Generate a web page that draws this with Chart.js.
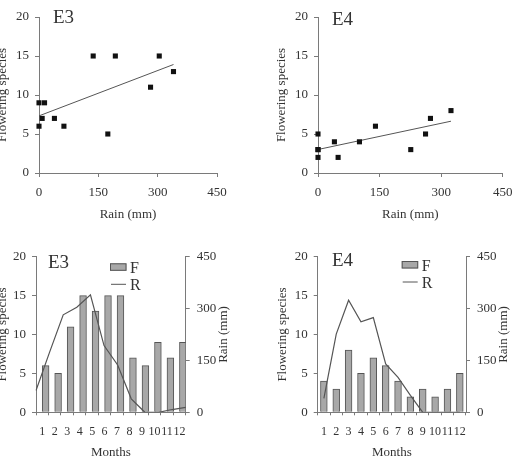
<!DOCTYPE html>
<html>
<head>
<meta charset="utf-8">
<script src="https://cdn.jsdelivr.net/npm/chart.js@4.4.1/dist/chart.umd.min.js"></script>
<style>
  html, body { margin: 0; padding: 0; background: #fff; overflow: hidden; width: 513px; height: 460px; }
  canvas { position: absolute; }
</style>
</head>
<body>
<canvas id="scatterE3" width="261" height="222" style="left:-5px;top:0px"></canvas>
<canvas id="scatterE4" width="250" height="222" style="left:274px;top:0px"></canvas>
<canvas id="barsE3" width="245" height="225" style="left:-5px;top:235px"></canvas>
<canvas id="barsE4" width="238" height="225" style="left:275px;top:235px"></canvas>
<script>
const months = ['1', '2', '3', '4', '5', '6', '7', '8', '9', '10', '11', '12'];
const flowersE3 = [6, 5, 11, 15, 13, 15, 15, 7, 6, 9, 7, 9];
const rainE3 = [63, 174, 282, 304, 340, 193, 137, 39, 0, 0, 8, 14];
const flowersE4 = [4, 3, 8, 5, 7, 6, 4, 2, 3, 2, 3, 5];
const rainE4 = [40, 226, 324, 262, 274, 140, 101, 49, 0, 0, 0, 0];
const speciesTicks = [0, 5, 10, 15, 20];
const rainTicks = [0, 150, 300, 450];

const FONT = '"Liberation Serif", "Times New Roman", serif';
const TEXT = '#333';
const AXIS = '#7a7a7a';

// least squares line, drawn from 0 to the largest rain value (like the excel trendline)
function trend(xs, ys) {
  const n = xs.length;
  const mx = xs.reduce((a, b) => a + b, 0) / n;
  const my = ys.reduce((a, b) => a + b, 0) / n;
  let sxy = 0, sxx = 0;
  xs.forEach((x, i) => { sxy += (x - mx) * (ys[i] - my); sxx += (x - mx) * (x - mx); });
  const m = sxy / sxx, b = my - m * mx;
  const xmax = Math.max(...xs);
  return [{ x: 0, y: b }, { x: xmax, y: b + m * xmax }];
}

// panel name, little legend and the right hand axis title
const panelText = {
  id: 'panelText',
  afterDraw(chart, args, o) {
    const { ctx, chartArea: a } = chart;
    ctx.save();
    ctx.fillStyle = TEXT;
    ctx.textBaseline = 'alphabetic';
    ctx.font = '19px ' + FONT;
    ctx.fillText(o.label, a.left + o.labelX, a.top + o.labelY);
    if (o.legend) {
      const lx = a.left + o.legend.x, ly = a.top + o.legend.y;
      ctx.fillStyle = '#a8a8a8';
      ctx.strokeStyle = '#555';
      ctx.lineWidth = 1;
      ctx.fillRect(lx, ly, 16.5, 7.5);
      ctx.strokeRect(lx + 0.5, ly + 0.5, 15.5, 6.5);
      ctx.beginPath();
      ctx.moveTo(lx + 1, ly + 21);
      ctx.lineTo(lx + 16, ly + 21);
      ctx.stroke();
      ctx.fillStyle = TEXT;
      ctx.font = '16px ' + FONT;
      ctx.fillText('F', lx + 20, ly + 9.5);
      ctx.fillText('R', lx + 20, ly + 26.5);
    }
    if (o.rightTitle) {
      ctx.font = '13px ' + FONT;
      ctx.textAlign = 'center';
      ctx.textBaseline = 'middle';
      ctx.translate(a.right + o.rightTitle, (a.top + a.bottom) / 2);
      ctx.rotate(-Math.PI / 2);
      ctx.fillText('Rain (mm)', 0, 0);
    }
    ctx.restore();
  }
};

function yAxis(ticks, max, width, position) {
  return {
    position: position,
    min: 0,
    max: max,
    afterBuildTicks: s => { s.ticks = ticks.map(v => ({ value: v })); },
    ticks: { color: TEXT, font: { family: FONT, size: 13 }, padding: 6 },
    grid: { drawOnChartArea: false, color: AXIS, tickLength: 4 },
    border: { color: AXIS },
    afterFit: s => { s.width = width; }
  };
}

function speciesTitle() {
  return { display: true, text: 'Flowering species', color: TEXT, font: { family: FONT, size: 13, lineHeight: 1.2 }, padding: 0 };
}

function scatterChart(id, rain, flowers, yWidth, padRight, label) {
  const y = yAxis(speciesTicks, 20, yWidth, 'left');
  y.title = speciesTitle();
  new Chart(document.getElementById(id), {
    type: 'scatter',
    data: {
      datasets: [
        {
          data: rain.map((r, i) => ({ x: r, y: flowers[i] })),
          pointStyle: 'rect',
          pointRadius: 3.6,
          backgroundColor: '#111',
          borderWidth: 0,
          clip: false
        },
        {
          type: 'line',
          data: trend(rain, flowers),
          borderColor: '#555',
          borderWidth: 1,
          pointRadius: 0,
          clip: false
        }
      ]
    },
    options: {
      responsive: false,
      animation: false,
      layout: { padding: { top: 17, right: padRight, left: 0, bottom: 0 } },
      plugins: {
        legend: { display: false },
        tooltip: { enabled: false },
        panelText: { label: label, labelX: 14, labelY: label === 'E3' ? 6 : 8 }
      },
      scales: {
        x: {
          type: 'linear',
          min: 0,
          max: 450,
          afterBuildTicks: s => { s.ticks = rainTicks.map(v => ({ value: v })); },
          ticks: { color: TEXT, font: { family: FONT, size: 13 }, padding: 8 },
          grid: { drawOnChartArea: false, color: AXIS, tickLength: 4 },
          border: { color: AXIS },
          title: { display: true, text: 'Rain (mm)', color: TEXT, font: { family: FONT, size: 13, lineHeight: 1.2 }, padding: 0 },
          afterFit: s => { s.height = 49; }
        },
        y: y
      }
    },
    plugins: [panelText]
  });
}

function comboChart(id, rain, flowers, yWidth, rWidth, edgeLine, label, o) {
  const y = yAxis(speciesTicks, 20, yWidth, 'left');
  y.title = speciesTitle();
  const y1 = yAxis(rainTicks, 450, rWidth, 'right');
  y1.ticks.padding = 7;
  const scales = {
    x: {
      type: 'category',
      offset: true,
      ticks: { color: TEXT, font: { family: FONT, size: 12 }, padding: 9, autoSkip: false, maxRotation: 0 },
      grid: { offset: true, drawOnChartArea: false, color: AXIS, tickLength: 3 },
      border: { color: AXIS },
      title: { display: true, text: 'Months', color: TEXT, font: { family: FONT, size: 13, lineHeight: 1.2 }, padding: 0 },
      afterFit: s => { s.height = 47.7; }
    },
    y: y,
    y1: y1
  };
  // E3 rain line runs from axis to axis, E4 one sits on the month centres
  if (edgeLine) {
    scales.x2 = { type: 'category', display: false, offset: false, position: 'bottom' };
  }
  new Chart(document.getElementById(id), {
    type: 'bar',
    data: {
      labels: months,
      datasets: [
        {
          type: 'line',
          label: 'R',
          data: rain,
          yAxisID: 'y1',
          xAxisID: edgeLine ? 'x2' : 'x',
          borderColor: '#555',
          borderWidth: 1.2,
          pointRadius: 0,
          tension: 0,
          order: 0
        },
        {
          label: 'F',
          data: flowers,
          yAxisID: 'y',
          xAxisID: 'x',
          backgroundColor: '#a8a8a8',
          borderColor: '#555',
          borderWidth: 1,
          barThickness: 6.8,
          order: 1
        }
      ]
    },
    options: {
      responsive: false,
      animation: false,
      layout: { padding: { top: 21.7, right: 0, left: 0, bottom: 0 } },
      plugins: {
        legend: { display: false },
        tooltip: { enabled: false },
        panelText: { label: label, labelX: o.labelX, labelY: o.labelY, legend: o.legend, rightTitle: 37.7 }
      },
      scales: scales
    },
    plugins: [panelText]
  });
}

scatterChart('scatterE3', rainE3, flowersE3, 44, 39, 'E3');
scatterChart('scatterE4', rainE4, flowersE4, 44, 21.3, 'E4');
comboChart('barsE3', rainE3, flowersE3, 41, 54.3, true, 'E3', { labelX: 12, labelY: 11.5, legend: { x: 74, y: 6.6 } });
comboChart('barsE4', rainE4, flowersE4, 42.7, 47, false, 'E4', { labelX: 14.3, labelY: 9, legend: { x: 84, y: 4.3 } });
</script>
</body>
</html>
